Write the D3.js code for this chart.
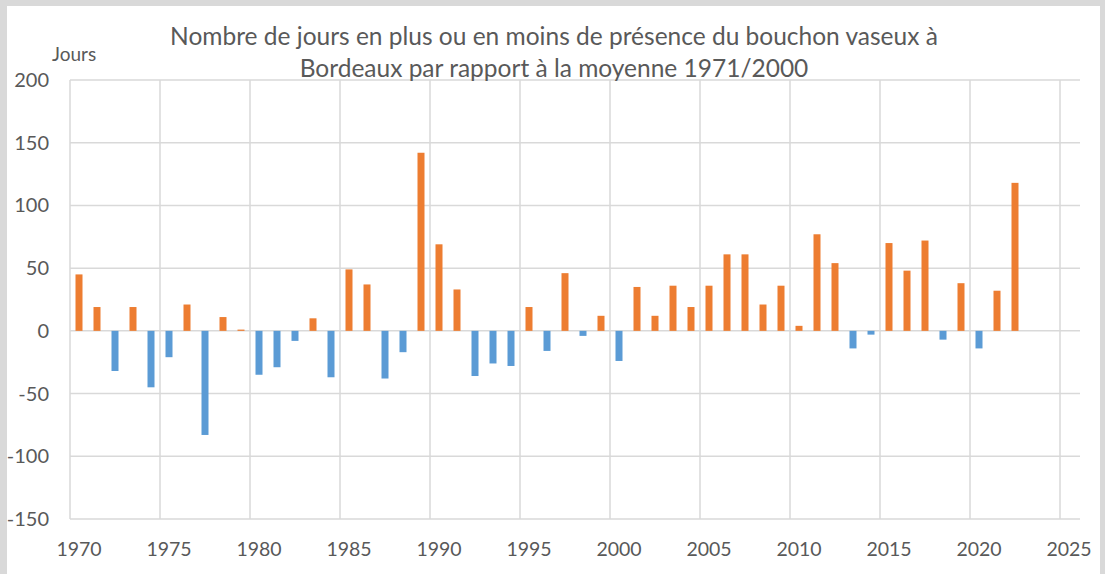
<!DOCTYPE html>
<html lang="fr">
  <head>
    <meta charset="utf-8">
    <title>Bouchon vaseux</title>
    <script src="https://cdn.jsdelivr.net/npm/d3@7"></script>
    <style>
      body { margin: 0; background: #d9d9d9; }
      svg { display: block; }
      text { font-family: Lato, "Open Sans", sans-serif; fill: #595959; }
    </style>
  </head>
  <body>
    <script>

      // annees et ecarts (jours) par rapport a la moyenne 1971/2000
      var years = d3.range(1970, 2023);
      var values = [45, 19, -32, 19, -45, -21, 21, -83, 11, 1,
                    -35, -29, -8, 10, -37, 49, 37, -38, -17, 142,
                    69, 33, -36, -26, -28, 19, -16, 46, -4, 12,
                    -24, 35, 12, 36, 19, 36, 61, 61, 21, 36,
                    4, 77, 54, -14, -3, 70, 48, 72, -7, 38,
                    -14, 32, 118];
      var xTicks = [1970, 1975, 1980, 1985, 1990, 1995, 2000, 2005, 2010, 2015, 2020, 2025];
      var yTicks = [-150, -100, -50, 0, 50, 100, 150, 200];
      var titleLines = ["Nombre de jours en plus ou en moins de présence du bouchon vaseux à",
                        "Bordeaux par rapport à la moyenne 1971/2000"];

      var W = 1105, H = 574;
      var svg = d3.select("body").append("svg")
                  .attr("width", W)
                  .attr("height", H);

      // panneau blanc
      svg.append("rect")
         .attr("x", 7).attr("y", 6)
         .attr("width", 1093).attr("height", H - 6)
         .style("fill", "white");

      var x = d3.scaleLinear().domain([1970, 2025]).range([70, 1060]);
      var y = d3.scaleLinear().domain([-150, 200]).range([519, 80]);
      var plotRight = 1080;

      // grille horizontale
      svg.selectAll("line.h")
         .data(yTicks)
         .enter().append("line")
         .attr("class", "h")
         .attr("x1", x(1970)).attr("x2", plotRight)
         .attr("y1", function(d) { return y(d); })
         .attr("y2", function(d) { return y(d); })
         .style("stroke", "#d9d9d9")
         .style("stroke-width", 1.5);

      // grille verticale
      svg.selectAll("line.v")
         .data(xTicks)
         .enter().append("line")
         .attr("class", "v")
         .attr("x1", function(d) { return x(d); })
         .attr("x2", function(d) { return x(d); })
         .attr("y1", y(200)).attr("y2", y(-150))
         .style("stroke", "#d9d9d9")
         .style("stroke-width", 1.5);

      // barres
      var bw = 7;
      svg.selectAll("rect.bar")
         .data(values)
         .enter().append("rect")
         .attr("class", "bar")
         .attr("x", function(d, i) { return x(years[i] + 0.5) - bw / 2; })
         .attr("width", bw)
         .attr("y", function(d) { return y(Math.max(0, d)); })
         .attr("height", function(d) { return Math.abs(y(d) - y(0)); })
         .style("fill", function(d) { if (d >= 0) { return "#ed7d31"; } else { return "#5b9bd5"; } });

      // etiquettes axe y
      svg.selectAll("text.yl")
         .data(yTicks)
         .enter().append("text")
         .attr("class", "yl")
         .attr("x", 49)
         .attr("y", function(d) { return y(d); })
         .attr("dy", "0.35em")
         .attr("text-anchor", "end")
         .style("font-size", "20px")
         .text(function(d) { return d; });

      // etiquettes axe x
      svg.selectAll("text.xl")
         .data(xTicks)
         .enter().append("text")
         .attr("class", "xl")
         .attr("x", function(d) { return x(d + 0.5); })
         .attr("y", 556)
         .attr("text-anchor", "middle")
         .style("font-size", "19.5px")
         .text(function(d) { return d; });

      svg.append("text")
         .attr("x", 52).attr("y", 61)
         .style("font-size", "19px")
         .text("Jours");

      svg.selectAll("text.title")
         .data(titleLines)
         .enter().append("text")
         .attr("class", "title")
         .attr("x", 554)
         .attr("y", function(d, i) { return 45 + i * 32; })
         .attr("text-anchor", "middle")
         .style("font-size", "24.5px")
         .text(function(d) { return d; });

    </script>
  </body>
</html>
